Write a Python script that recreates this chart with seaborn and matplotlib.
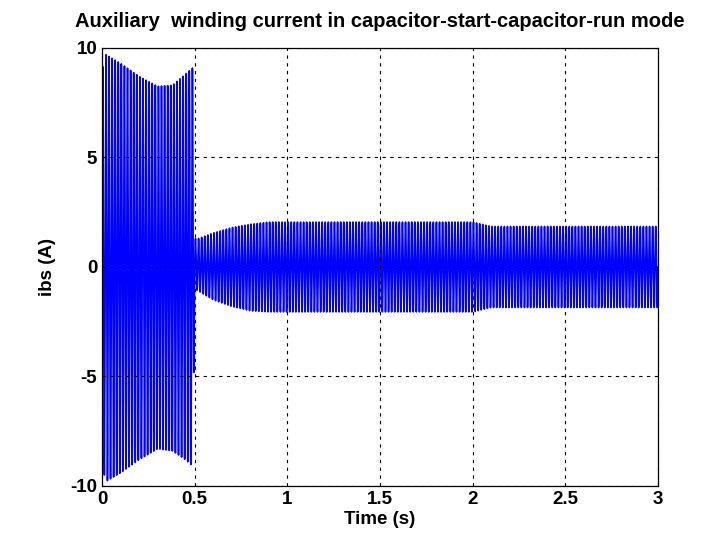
import numpy as np
import pandas as pd
import seaborn as sns
import matplotlib.pyplot as plt

# envelope of the auxiliary winding current
env_time = [0.0, 0.02, 0.1, 0.2, 0.3, 0.38, 0.45, 0.49, 0.5, 0.52, 0.6, 0.7, 0.8, 0.9, 1.0, 1.5, 2.0, 2.05, 2.1, 2.5, 3.0]
env_upper = [9.0, 9.7, 9.3, 8.7, 8.25, 8.3, 8.8, 9.1, 1.3, 1.3, 1.55, 1.8, 1.95, 2.05, 2.05, 2.05, 2.05, 1.95, 1.85, 1.85, 1.85]
env_lower = [-9.0, -9.8, -9.4, -8.8, -8.3, -8.4, -8.8, -9.1, -1.0, -1.1, -1.5, -1.8, -2.0, -2.05, -2.05, -2.05, -2.05, -1.95, -1.85, -1.85, -1.85]
freq_hz = 60

x_ticks = [0, 0.5, 1, 1.5, 2, 2.5, 3]
y_ticks = [-10, -5, 0, 5, 10]

t = np.linspace(0, 3, 60001)
up = np.interp(t, env_time, env_upper)
lo = np.interp(t, env_time, env_lower)
s = np.sin(2 * np.pi * freq_hz * t)
ibs = np.where(s >= 0, up * s, -lo * s)

df = pd.DataFrame({'Time (s)': t, 'ibs (A)': ibs})

sns.set_style('white')
plt.rcParams['font.family'] = ['Liberation Sans', 'DejaVu Sans']
plt.rcParams['font.weight'] = 'bold'
plt.rcParams['axes.unicode_minus'] = False

fig = plt.figure(figsize=(7.11, 5.41), dpi=100)
ax = fig.add_axes([0.1435, 0.1017, 0.782, 0.8096])
sns.lineplot(x='Time (s)', y='ibs (A)', data=df, ax=ax, color='#0000ff',
             linewidth=1.2, estimator=None, sort=False)

ax.set_xlim(0, 3)
ax.set_ylim(-10, 10)
ax.set_xticks(x_ticks)
ax.set_xticklabels([f'{v:g}' for v in x_ticks])
ax.set_yticks(y_ticks)
ax.grid(True, color='black', linestyle=(0, (3, 4)), linewidth=0.8)
ax.set_axisbelow(False)
ax.tick_params(direction='in', length=5, labelsize=13.5, colors='black', width=0.8)
for sp in ax.spines.values():
    sp.set_color('black')
    sp.set_linewidth(0.9)
for lab in ax.get_xticklabels() + ax.get_yticklabels():
    lab.set_fontweight('bold')

ax.set_xlabel('Time (s)', fontsize=13.5, fontweight='bold', labelpad=2, color='black')
ax.set_ylabel('ibs (A)', fontsize=13.5, fontweight='bold', labelpad=10, color='black')
ax.set_title('Auxiliary  winding current in capacitor-start-capacitor-run mode',
             fontsize=14.5, fontweight='bold', pad=15, color='black')

fig.savefig('out.png', dpi=100)
